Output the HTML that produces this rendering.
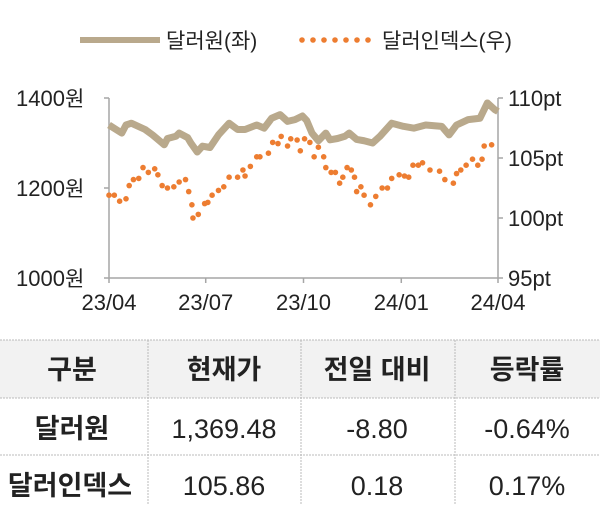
<!DOCTYPE html>
<html><head><meta charset="utf-8"><style>
body{margin:0;background:#fff;width:600px;height:504px;overflow:hidden;font-family:"Liberation Sans","Noto Sans CJK KR",sans-serif;}
svg text{font-family:"Liberation Sans","Noto Sans CJK KR",sans-serif;}
</style></head><body>
<svg width="600" height="504" id="chart">
<g>
<line x1="80" y1="40" x2="160" y2="40" stroke="#b9a98c" stroke-width="6"/>
<text x="166" y="48" font-size="21" fill="#222">달러원(좌)</text>
<g id="legdots"></g>
<text x="382" y="48" font-size="21" fill="#222">달러인덱스(우)</text>
</g>
<g id="axes"></g>
<g id="marks"></g>
<g>
<rect x="0" y="340" width="600" height="58" fill="#f2f2f2"/>
<line x1="0" y1="340" x2="600" y2="340" stroke="#bbb" stroke-dasharray="2,1"/>
<line x1="0" y1="398" x2="600" y2="398" stroke="#bbb" stroke-dasharray="2,1"/>
<line x1="0" y1="455" x2="600" y2="455" stroke="#bbb" stroke-dasharray="2,1"/>
<line x1="148" y1="340" x2="148" y2="504" stroke="#bbb" stroke-dasharray="2,1"/>
<line x1="301" y1="340" x2="301" y2="504" stroke="#bbb" stroke-dasharray="2,1"/>
<line x1="455" y1="340" x2="455" y2="504" stroke="#bbb" stroke-dasharray="2,1"/>
<g font-size="27" fill="#222" text-anchor="middle" font-weight="bold">
<text x="72" y="379">구분</text>
<text x="224" y="379">현재가</text>
<text x="377" y="379">전일 대비</text>
<text x="527" y="379">등락률</text>
<text x="72" y="438">달러원</text>
<text x="70" y="495">달러인덱스</text>
</g>
<g font-size="27" fill="#222" text-anchor="middle">
<text x="224" y="438">1,369.48</text>
<text x="377" y="438">-8.80</text>
<text x="527" y="438">-0.64%</text>
<text x="224" y="495">105.86</text>
<text x="377" y="495">0.18</text>
<text x="527" y="495">0.17%</text>
</g>
</g>
</svg>
<script>
const xTickLabels=["23/04","23/07","23/10","24/01","24/04"];
const xTickDays=[0,91,183,275,366];
const leftTicks=[1000,1200,1400];
const rightTicks=[95,100,105,110];
const krwDays=[0,12,16,21,34,41,48,52,55,63,66,74,77,83,88,95,103,113,121,128,139,146,153,161,168,175,182,186,191,197,204,208,215,222,226,233,240,248,255,266,277,287,298,313,320,327,338,349,356,363,366];
const krwValues=[1340,1322,1340,1344,1330,1318,1304,1296,1310,1315,1322,1312,1300,1280,1293,1290,1318,1344,1330,1330,1340,1333,1355,1363,1348,1352,1360,1350,1322,1305,1322,1307,1310,1315,1322,1308,1305,1300,1315,1344,1337,1333,1340,1337,1318,1340,1352,1355,1389,1374,1370];
const dxyDays=[0,5,10,16,19,23,28,32,37,43,46,50,55,61,66,72,75,78,79,84,90,93,97,103,108,113,121,126,128,133,139,142,150,154,159,162,168,171,177,180,184,189,193,197,202,204,209,213,217,220,224,228,231,233,237,240,246,251,257,262,266,273,278,282,286,291,295,302,311,316,324,327,331,336,342,347,351,353,360];
const dxyValues=[101.9,101.9,101.4,101.6,102.7,103.2,103.3,104.2,103.8,104.1,103.6,102.7,102.5,102.6,103.0,103.2,102.2,101.1,100.0,100.3,101.2,101.3,101.9,102.3,102.6,103.4,103.4,104.0,103.5,104.3,105.1,105.1,105.4,106.3,106.2,106.8,106.0,106.6,106.5,105.6,106.6,106.3,105.1,105.9,105.1,104.2,103.8,103.8,102.9,103.4,104.2,104.0,103.4,102.2,102.6,101.9,101.1,101.8,102.5,102.5,103.3,103.6,103.5,103.4,104.4,104.4,104.6,104.0,103.9,103.2,102.9,103.7,104.0,104.4,104.9,104.4,104.9,106.0,106.1];
const NS="http://www.w3.org/2000/svg";
const X0=109,X1=498,YT=98,YB=278;
const xS=d=>X0+(d/366)*(X1-X0);
const yL=v=>YB-(v-1000)/400*(YB-YT);
const yR=v=>YB-(v-95)/15*(YB-YT);
function mk(tag,attrs,parent){const e=document.createElementNS(NS,tag);for(const k in attrs)e.setAttribute(k,attrs[k]);parent.appendChild(e);return e;}
const ax=document.getElementById('axes'),mg=document.getElementById('marks');
const ac="#a6a6a6";
let l=mk('line',{x1:X0,y1:YT,x2:X0,y2:YB,stroke:ac,'stroke-width':1.5},ax);

l=mk('line',{x1:X1,y1:YT,x2:X1,y2:YB,stroke:ac,'stroke-width':1.5},ax);

l=mk('line',{x1:X0,y1:YB,x2:X1,y2:YB,stroke:ac,'stroke-width':1.5},ax);

leftTicks.forEach(v=>{mk('line',{x1:X0-5,y1:yL(v),x2:X0,y2:yL(v),stroke:ac,'stroke-width':1.5},ax);
const t=mk('text',{x:X0-44,y:yL(v)+8,'font-size':22,fill:'#222','text-anchor':'end'},ax);t.textContent=v;

const w=mk('text',{x:X0-44,y:yL(v)+8,'font-size':21,fill:'#222'},ax);w.textContent='원';
});
rightTicks.forEach(v=>{mk('line',{x1:X1,y1:yR(v),x2:X1+5,y2:yR(v),stroke:ac,'stroke-width':1.5},ax);
const t=mk('text',{x:X1+10,y:yR(v)+8,'font-size':22,fill:'#222'},ax);t.textContent=v+'pt';
});
xTickDays.forEach((d,i)=>{mk('line',{x1:xS(d),y1:YB,x2:xS(d),y2:YB+5,stroke:ac,'stroke-width':1.5},ax);
const t=mk('text',{x:xS(d),y:YB+32,'font-size':22,fill:'#222','text-anchor':'middle'},ax);t.textContent=xTickLabels[i];
});
const p=mk('polyline',{points:krwDays.map((d,i)=>xS(d)+','+yL(krwValues[i])).join(' '),fill:'none',stroke:'#b9a98c','stroke-width':7,'stroke-linejoin':'round'},mg);

dxyDays.forEach((d,i)=>{const c=mk('circle',{cx:xS(d),cy:yR(dxyValues[i]),r:2.8,fill:'#ed7d31'},mg);
});
const lg=document.getElementById('legdots');
for(let i=0;i<7;i++){const c=mk('circle',{cx:302+i*11,cy:40,r:2.8,fill:'#ed7d31'},lg);
}
</script>
</body></html>
